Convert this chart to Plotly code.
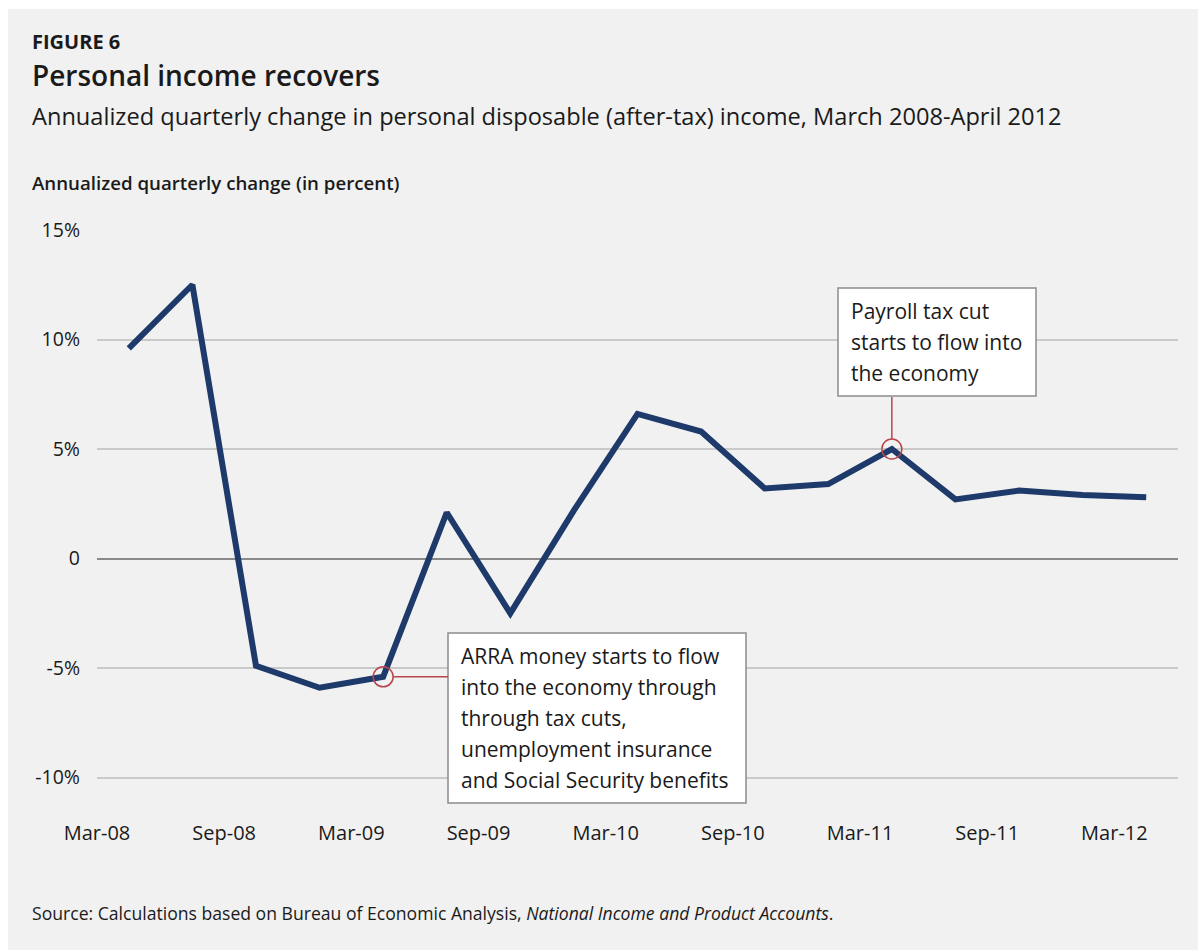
import plotly.graph_objects as go

# ---------------- data ----------------
quarter_index = list(range(17))  # 2008Q1 .. 2012Q1
income_change = [9.6, 12.5, -4.9, -5.9, -5.4, 2.1, -2.5, 2.2, 6.6, 5.8,
                 3.2, 3.4, 5.0, 2.7, 3.1, 2.9, 2.8]
tick_positions = [-0.5, 1.5, 3.5, 5.5, 7.5, 9.5, 11.5, 13.5, 15.5]
tick_labels = ["Mar-08", "Sep-08", "Mar-09", "Sep-09", "Mar-10",
               "Sep-10", "Mar-11", "Sep-11", "Mar-12"]
y_ticks = [-10, -5, 0, 5, 10, 15]
y_tick_labels = ["-10%", "-5%", "0", "5%", "10%", "15%"]

arra_index = 4
payroll_index = 12
arra_lines = ["ARRA money starts to flow", "into the economy through",
              "through tax cuts,", "unemployment insurance",
              "and Social Security benefits"]
payroll_lines = ["Payroll tax cut", "starts to flow into", "the economy"]

# ---------------- layout geometry ----------------
W, H = 1198, 952
ML, MR, MT, MB = 97, 20, 230, 146
PW, PH = W - ML - MR, H - MT - MB

def px(x):
    return (x - ML) / PW

def py(y):
    return (H - MB - y) / PH

FONT = "Open Sans"
TXT = "#1a1a1a"
NAVY = "#1d3a6b"
RED = "#b8474c"

fig = go.Figure()
fig.add_trace(go.Scatter(
    x=quarter_index, y=income_change, mode="lines",
    line=dict(color=NAVY, width=6), hoverinfo="skip", showlegend=False))

shapes = [
    # gray panel
    dict(type="rect", xref="paper", yref="paper", layer="below",
         x0=px(8), x1=px(1198), y0=py(950), y1=py(9),
         fillcolor="#f1f1f1", line=dict(width=0)),
    # ARRA box
    dict(type="rect", xref="paper", yref="paper",
         x0=px(448), x1=px(746), y0=py(803), y1=py(633),
         fillcolor="white", line=dict(color="#8c8c8c", width=1.5)),
    # Payroll box
    dict(type="rect", xref="paper", yref="paper",
         x0=px(838), x1=px(1036), y0=py(396), y1=py(288),
         fillcolor="white", line=dict(color="#8c8c8c", width=1.5)),
    # ARRA circle
    dict(type="circle", xref="x", yref="y", xsizemode="pixel", ysizemode="pixel",
         xanchor=quarter_index[arra_index], yanchor=income_change[arra_index],
         x0=-10, x1=10, y0=-10, y1=10, line=dict(color=RED, width=1.5)),
    # ARRA connector
    dict(type="line", xref="x", yref="y", xsizemode="pixel", ysizemode="pixel",
         xanchor=quarter_index[arra_index], yanchor=income_change[arra_index],
         x0=10, x1=65, y0=0, y1=0, line=dict(color=RED, width=1.5)),
    # Payroll circle
    dict(type="circle", xref="x", yref="y", xsizemode="pixel", ysizemode="pixel",
         xanchor=quarter_index[payroll_index], yanchor=income_change[payroll_index],
         x0=-10, x1=10, y0=-10, y1=10, line=dict(color=RED, width=1.5)),
    # Payroll connector
    dict(type="line", xref="x", yref="y", xsizemode="pixel", ysizemode="pixel",
         xanchor=quarter_index[payroll_index], yanchor=income_change[payroll_index],
         x0=0, x1=0, y0=10, y1=52, line=dict(color=RED, width=1.5)),
]

annotations = [
    dict(text="<b>FIGURE 6</b>", x=px(30), y=py(41), size=20),
    dict(text="Personal income recovers", x=px(30), y=py(75), size=28, weight=600),
    dict(text="Annualized quarterly change in personal disposable (after-tax) income, March 2008-April 2012",
         x=px(30), y=py(116), size=23.6),
    dict(text="Annualized quarterly change (in percent)", x=px(30), y=py(183), size=18.7, weight=600),
    dict(text="Source: Calculations based on Bureau of Economic Analysis, <i>National Income and Product Accounts</i>.",
         x=px(30), y=py(913), size=17.6),
]
for i, t in enumerate(arra_lines):
    annotations.append(dict(text=t, x=px(459), y=py(656 + 31 * i), size=21))
for i, t in enumerate(payroll_lines):
    annotations.append(dict(text=t, x=px(849), y=py(311 + 31 * i), size=21))

ann_objs = []
for a in annotations:
    f = dict(family=FONT, size=a["size"], color=TXT)
    if "weight" in a:
        f["weight"] = a["weight"]
    ann_objs.append(dict(text=a["text"], x=a["x"], y=a["y"], xref="paper", yref="paper",
                         xanchor="left", yanchor="middle", showarrow=False, font=f))

fig.update_layout(
    width=W, height=H,
    margin=dict(l=ML, r=MR, t=MT, b=MB),
    paper_bgcolor="white", plot_bgcolor="rgba(0,0,0,0)",
    shapes=shapes, annotations=ann_objs,
    showlegend=False,
    font=dict(family=FONT, color=TXT),
)
fig.update_xaxes(range=[-0.5, 16.5], tickvals=tick_positions, ticktext=tick_labels,
                 showgrid=False, zeroline=False, showline=False, ticks="",
                 tickfont=dict(family=FONT, size=20, color=TXT), ticklabelstandoff=13,
                 fixedrange=True)
fig.update_yaxes(range=[-11.3, 15], tickvals=y_ticks, ticktext=y_tick_labels,
                 showgrid=True, gridcolor="#c9c9c9", gridwidth=1.5,
                 zeroline=True, zerolinecolor="#8a8a8a", zerolinewidth=2,
                 showline=False, ticks="", ticklabelstandoff=16,
                 tickfont=dict(family=FONT, size=19.5, color=TXT), fixedrange=True)

fig.write_html("out.html", config={"displayModeBar": False})
